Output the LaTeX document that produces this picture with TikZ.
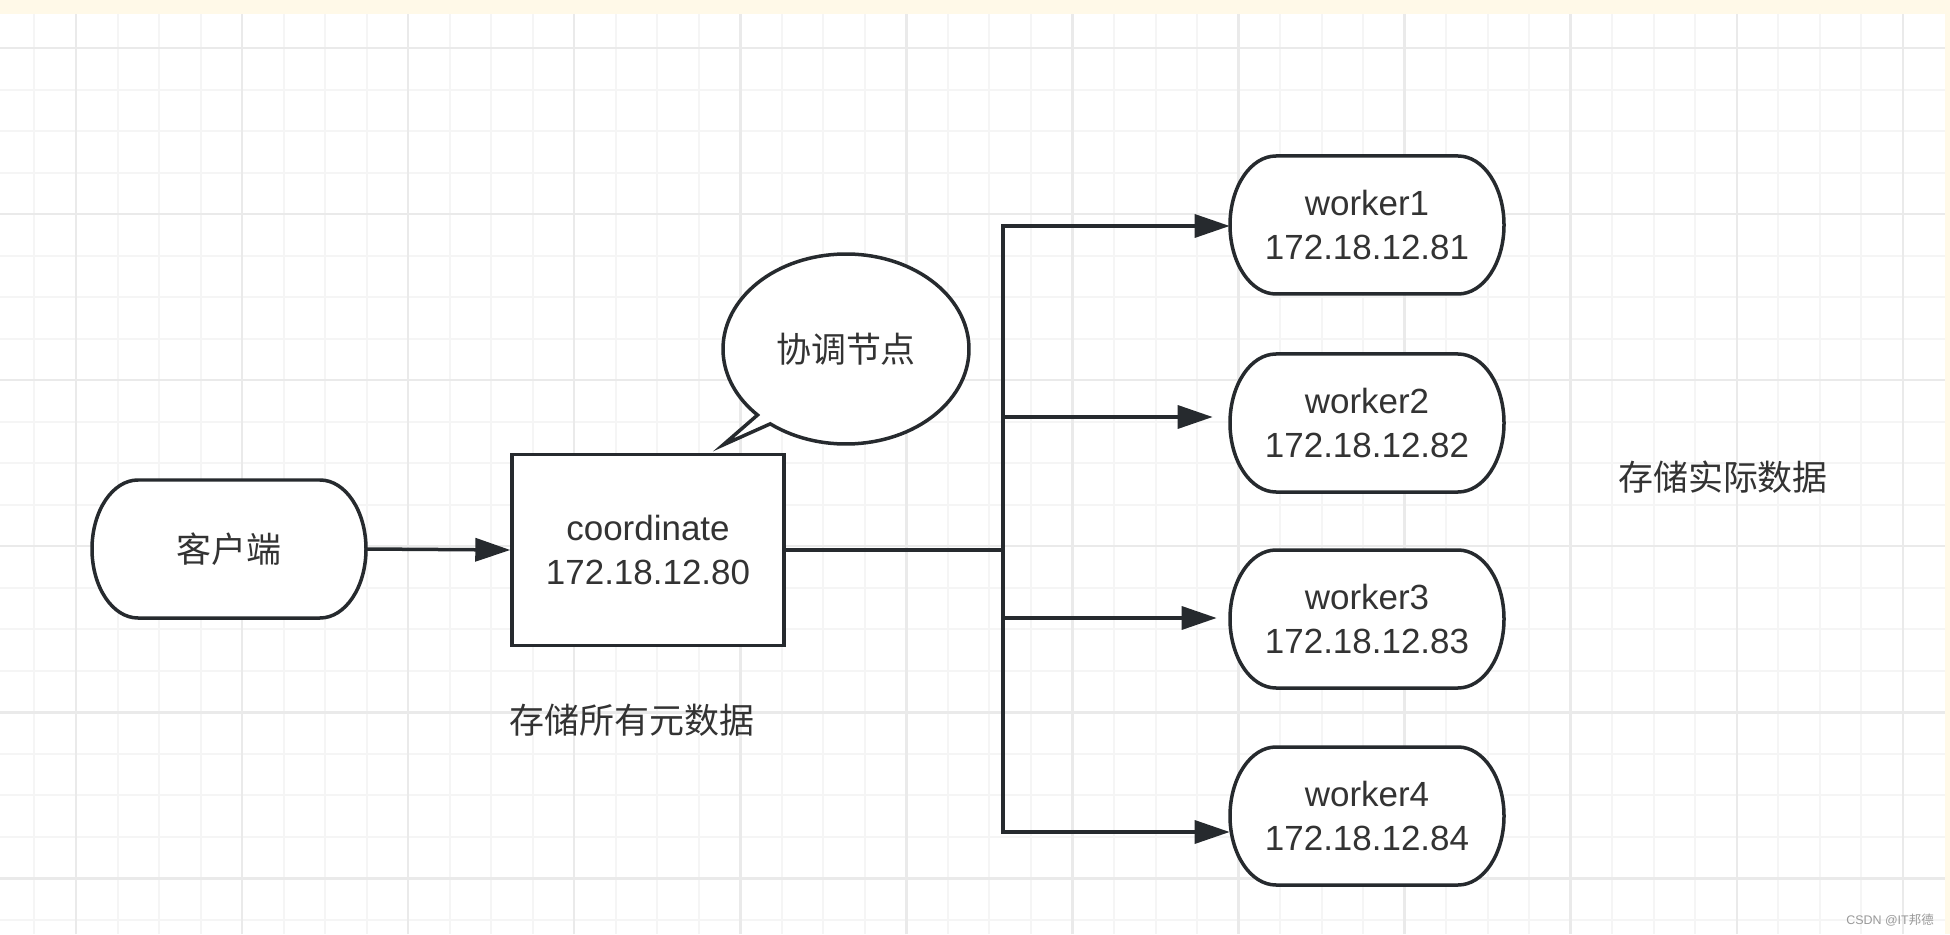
\documentclass[tikz,border=0pt]{standalone}
\usepackage{fontspec}
\setmainfont{Liberation Sans}
\newfontfamily\cjk{Noto Sans CJK SC}
\usetikzlibrary{arrows.meta}
\definecolor{ink}{HTML}{262A2E}
\definecolor{txt}{HTML}{333333}
\definecolor{gridminor}{HTML}{F5F5F5}
\definecolor{gridmajor}{HTML}{EAEAEA}
\definecolor{topbar}{HTML}{FFF9E8}
\tikzstyle{edge} = [draw=ink,line width=0.07cm]
\tikzstyle{post} = [edge,-{Triangle[length=0.7cm,width=0.46cm]}]
\tikzstyle{big} = [text=txt,font=\fontsize{19.9pt}{25.6pt}\selectfont]
\tikzstyle{term} = [big,minimum width=5.48cm,minimum height=2.76cm,inner sep=0,align=center]
% terminator box: outline with elliptic ends, then the named text node
\newcommand{\termbox}[4]{%
    \draw[edge,fill=white] ({#2-91},{#3+69}) -- ({#2+91},{#3+69})
        arc[start angle=90,end angle=-90,x radius=46,y radius=69] -- ({#2-91},{#3-69})
        arc[start angle=270,end angle=90,x radius=46,y radius=69] -- cycle;
    \node[term] (#1) at (#2,#3) {#4};}

\begin{document}
\begin{tikzpicture}[x=0.02cm,y=0.02cm,
    minor/.style={gridminor,line width=0.04cm},
    major/.style={gridmajor,line width=0.05cm}]

    % page, top bar and grid
    \useasboundingbox (0,0) rectangle (1950,934);
    \fill[white] (0,0) rectangle (1950,934);
    \foreach \n in {-1,...,44}
        \draw[minor] ({76+41.52*\n},0) -- ({76+41.52*\n},920);
    \foreach \m in {0,...,21}
        \draw[minor] (0,{886-41.52*\m}) -- (1950,{886-41.52*\m});
    \foreach \n in {0,4,...,44}
        \draw[major] ({76+41.52*\n},0) -- ({76+41.52*\n},920);
    \foreach \m in {0,4,...,20}
        \draw[major] (0,{886-41.52*\m}) -- (1950,{886-41.52*\m});
    \fill[topbar] (0,920) rectangle (1950,934);
    \fill[topbar] (1945,0) rectangle (1950,934);

    \termbox{cl}{229}{385}{\cjk 客户端}
    \node[big,draw=ink,line width=0.07cm,fill=white,minimum width=5.44cm,
        minimum height=3.82cm,align=center] (co) at (648,384) {coordinate\\172.18.12.80};

    % speech bubble
    \coordinate (hc) at (846,585);
    \coordinate (tip) at (723,489);
    \draw[edge,fill=white] (hc) ++(232:123 and 95)
        arc[start angle=232,end angle=584,x radius=123,y radius=95] -- (tip) -- cycle;
    \node[big,font=\cjk\fontsize{19.9pt}{25.6pt}\selectfont] (hint) at (hc) {协调节点};

    \termbox{w1}{1367}{709}{worker1\\172.18.12.81}
    \termbox{w2}{1367}{511}{worker2\\172.18.12.82}
    \termbox{w3}{1367}{315}{worker3\\172.18.12.83}
    \termbox{w4}{1367}{118}{worker4\\172.18.12.84}

    \node[big,font=\cjk\fontsize{19.9pt}{25.6pt}\selectfont] (meta) at (632,214) {存储所有元数据};
    \node[big,font=\cjk\fontsize{19.9pt}{25.6pt}\selectfont] (data) at (1723,457) {存储实际数据};
    \node[text=black!40,font=\fontsize{7.1pt}{8pt}\selectfont] (mark) at (1890,14) {CSDN @IT{\cjk 邦德}};

    \coordinate (j) at (1003,384);
    \coordinate (b1) at (1003,708);
    \coordinate (b2) at (1003,517);
    \coordinate (b3) at (1003,316);
    \coordinate (b4) at (1003,102);

    \draw[post] (cl.east) -- (co.west);
    \draw[edge] (co.east) -- (j);
    \draw[post] (j) -- (b1) -- (b1 -| w1.west);
    \draw[post,shorten >=0.34cm] (b2) -- (b2 -| w2.west);
    \draw[post,shorten >=0.26cm] (b3) -- (b3 -| w3.west);
    \draw[post] (j) -- (b4) -- (b4 -| w4.west);

\end{tikzpicture}
\end{document}
